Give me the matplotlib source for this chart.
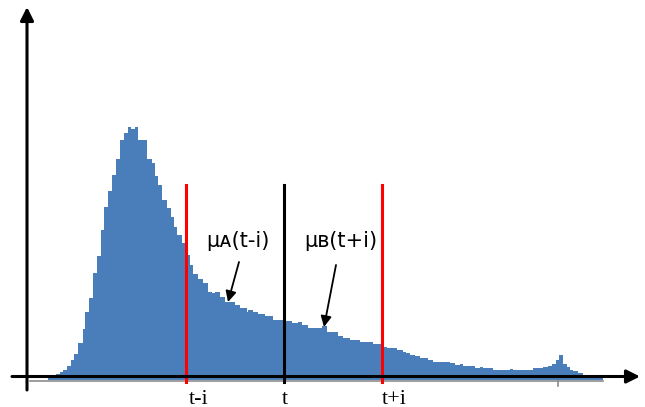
import matplotlib.pyplot as plt

# histogram (arbitrary units)
bin_edges = [48, 50, 56, 60, 63, 67, 71, 74, 78, 83, 85, 89, 93, 97, 101, 104,
             108, 112, 116, 120, 124, 128, 131, 135, 138, 147, 152, 155, 158,
             162, 167, 171, 174, 177, 182, 186, 190, 193, 198, 203, 208, 212,
             215, 220, 225, 230, 235, 240, 247, 248, 253, 258, 265, 273, 283,
             292, 298, 302, 308, 322, 327, 330, 338, 343, 350, 355, 360, 367,
             373, 382, 387, 392, 397, 403, 406, 410, 415, 420, 428, 433, 450,
             455, 460, 463, 475, 480, 483, 493, 510, 513, 533, 543, 548, 552,
             556, 559, 563, 567, 570, 573, 578, 583, 603]
counts = [2, 4, 6, 8, 10, 14, 20, 26, 37, 51, 68, 82, 107, 124, 150,
          173, 189, 205, 221, 240, 247, 253, 251, 253, 240, 221, 217, 204,
          195, 180, 172, 163, 153, 145, 137, 125, 115, 106, 101, 97, 88,
          87, 88, 83, 78, 78, 75, 72, 68, 70, 68, 66, 64, 60,
          59, 57, 58, 55, 52, 54, 48, 48, 44, 42, 40, 40, 38,
          38, 36, 33, 32, 32, 30, 28, 27, 25, 24, 22, 20, 18,
          17, 15, 16, 14, 12, 13, 12, 10, 11, 10, 12, 13, 14,
          16, 20, 25, 16, 13, 10, 9, 7, 3]

t_center = 284
t_minus = 186
t_plus = 381.5
marks = [(t_minus, "t-i", 199), (t_center, "t", 285), (t_plus, "t+i", 394)]

fig = plt.figure(figsize=(6.45, 4.07), dpi=100)
ax = fig.add_axes([0, 0, 1, 1])
ax.set_xlim(0, 645)
ax.set_ylim(-27, 380)
ax.axis("off")

ax.stairs(counts, bin_edges, fill=True, color="#4a7ebb", lw=0, zorder=1)

# faint grey base line and one tick from the original chart
ax.plot([30, 603], [-0.5, -0.5], color="#8c8c8c", lw=1.2, zorder=2)
ax.plot([558, 558], [-1, -6], color="#8c8c8c", lw=1.2, zorder=2)

# axes with arrow heads
ax.annotate("", xy=(640, 3.5), xytext=(12, 3.5),
            arrowprops=dict(arrowstyle="-|>", color="k", lw=2.2,
                            mutation_scale=20, shrinkA=0, shrinkB=0), zorder=4)
ax.annotate("", xy=(27, 373), xytext=(27, -10),
            arrowprops=dict(arrowstyle="-|>", color="k", lw=2.2,
                            mutation_scale=20, shrinkA=0, shrinkB=0), zorder=4)

# window lines
for x, lab, lx in marks:
    c = "k" if lab == "t" else "red"
    ax.plot([x, x], [195, -2], color=c, lw=2.2, zorder=3)
    ax.text(lx, -19, lab, ha="center", va="center", fontsize=16,
            family="Liberation Serif")

ax.text(206, 139, "μᴀ(t-i)", ha="left", va="center", fontsize=15,
        family="DejaVu Sans")
ax.text(304, 139, "μʙ(t+i)", ha="left", va="center", fontsize=15,
        family="DejaVu Sans")
ax.annotate("", xy=(228, 78), xytext=(239, 118),
            arrowprops=dict(arrowstyle="-|>", color="k", lw=1.3,
                            mutation_scale=16, shrinkA=0, shrinkB=0))
ax.annotate("", xy=(324, 53), xytext=(336, 115),
            arrowprops=dict(arrowstyle="-|>", color="k", lw=1.3,
                            mutation_scale=16, shrinkA=0, shrinkB=0))

fig.savefig("out.png", dpi=100)
